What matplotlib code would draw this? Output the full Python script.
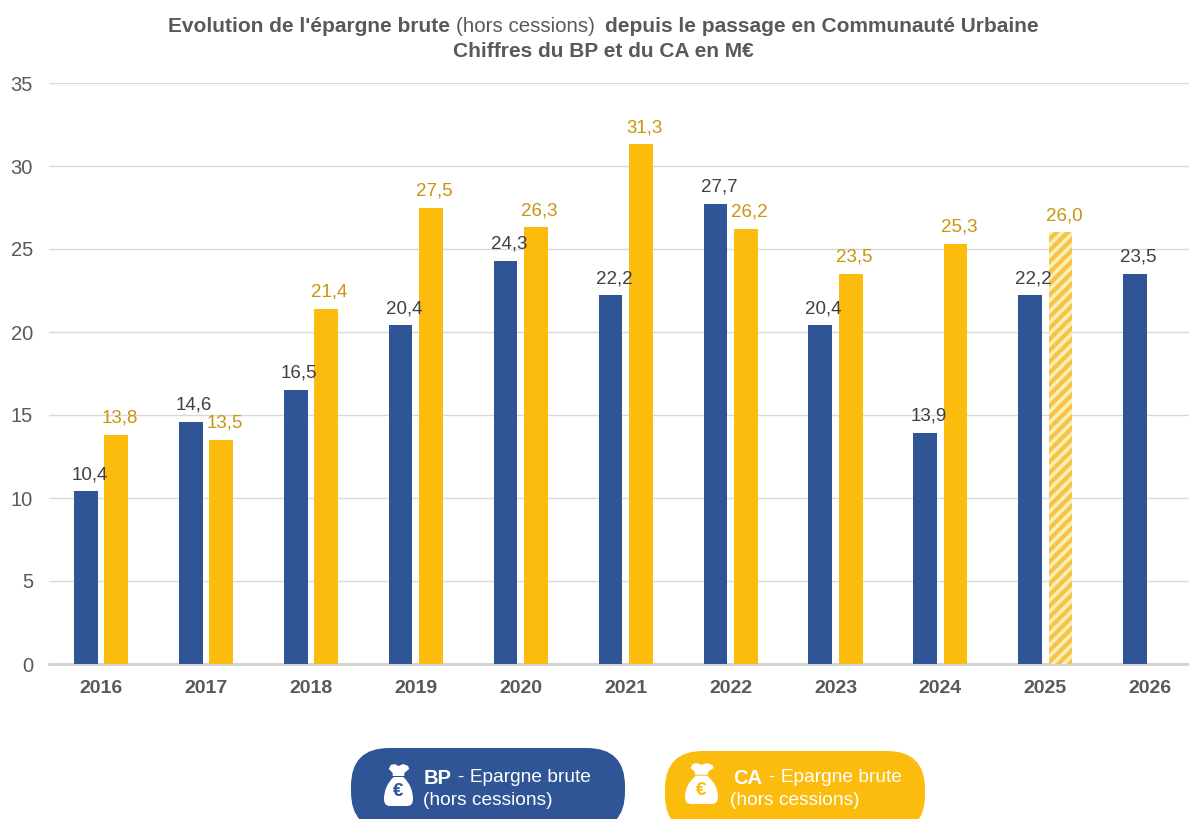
import matplotlib
matplotlib.use('Agg')
import matplotlib.pyplot as plt
from matplotlib.patches import FancyBboxPatch, PathPatch
from matplotlib.path import Path
import numpy as np

years = ['2016', '2017', '2018', '2019', '2020', '2021', '2022', '2023', '2024', '2025', '2026']
bp = [10.4, 14.6, 16.5, 20.4, 24.3, 22.2, 27.7, 20.4, 13.9, 22.2, 23.5]
ca = [13.8, 13.5, 21.4, 27.5, 26.3, 31.3, 26.2, 23.5, 25.3, 26.0, None]
hatched_year = '2025'

BLUE = '#2F5597'
YELLOW = '#FBBC0E'
GOLD = '#C8960C'
DARK = '#404040'
GREY = '#595959'

plt.rcParams['font.family'] = ['Liberation Sans', 'DejaVu Sans']

fig = plt.figure(figsize=(11.89, 8.19), dpi=100)
ax = fig.add_axes([49 / 1189, (819 - 664) / 819, 1 - 49 / 1189, (664 - 83) / 819])

x = np.arange(len(years))
w = 0.226
off = 0.145


def fr(v):
    return f'{v:.1f}'.replace('.', ',')


ax.bar(x - off, bp, w, color=BLUE, zorder=3)
for i, v in enumerate(ca):
    if v is None:
        continue
    if years[i] == hatched_year:
        plt.rcParams['hatch.linewidth'] = 3
        ax.bar(i + off, v, w, color='#F8EFB0', edgecolor='#F7C24A', hatch='///', linewidth=0, zorder=3)
    else:
        ax.bar(i + off, v, w, color=YELLOW, zorder=3)

for i, v in enumerate(bp):
    ax.annotate(fr(v), (i - off, v), xytext=(2.5, 6), textcoords='offset points', ha='center', va='bottom',
                fontsize=13.5, color=DARK, zorder=5)
for i, v in enumerate(ca):
    if v is not None:
        ax.annotate(fr(v), (i + off, v), xytext=(2.5, 6), textcoords='offset points', ha='center', va='bottom',
                    fontsize=13.5, color=GOLD, zorder=5)

ax.set_xlim(-0.497, 10.37)
ax.set_ylim(0, 35)
ax.set_yticks(range(0, 36, 5))
ax.set_xticks(x)
ax.set_xticklabels(years, fontsize=14, fontweight='bold', color=GREY)
ax.tick_params(axis='x', length=0, pad=11.5)
ax.tick_params(axis='y', length=0, pad=11.5, labelsize=14.5, labelcolor=GREY)
ax.grid(axis='y', color='#D9D9D9', linewidth=1, zorder=0)
ax.set_axisbelow(True)
for s in ['top', 'right', 'left']:
    ax.spines[s].set_visible(False)
ax.spines['bottom'].set_color('#D0D0D0')
ax.spines['bottom'].set_linewidth(2)

# overlay in pixel coordinates for title and the pill legend
ov = fig.add_axes([0, 0, 1, 1], facecolor='none')
ov.set_xlim(0, 1189)
ov.set_ylim(819, 0)
ov.axis('off')

ov.text(168, 26.5, "Evolution de l'épargne brute", fontsize=15.05, fontweight='bold', color=GREY, va='center')
ov.text(456, 26.5, '(hors cessions)', fontsize=14.8, color=GREY, va='center')
ov.text(605, 26.5, 'depuis le passage en Communauté Urbaine', fontsize=15.05, fontweight='bold', color=GREY, va='center')
ov.text(603, 51.5, 'Chiffres du BP et du CA en M€', fontsize=15, fontweight='bold', color=GREY, va='center', ha='center')


def bag(x0, x1, y0, y1, fg, bg):
    sx = (x1 - x0) / 30
    sy = (y1 - y0) / 42
    pts = [(7, 1), (11, 0), (15, 2), (20, 0), (25, 2), (26, 5), (21, 9), (21, 12), (9, 12), (9, 9), (5, 5), (7, 1)]
    verts = [(x0 + a * sx, y0 + b * sy) for a, b in pts]
    codes = [Path.MOVETO] + [Path.LINETO] * 10 + [Path.CLOSEPOLY]
    ov.add_patch(PathPatch(Path(verts, codes), fc=fg, ec='none'))
    body = [(10, 13), (20, 13), (30, 22), (30, 35), (30, 42), (24, 42), (6, 42), (0, 42), (0, 35), (0, 22), (10, 13), (10, 13)]
    verts = [(x0 + a * sx, y0 + b * sy) for a, b in body]
    codes = [Path.MOVETO, Path.LINETO, Path.CURVE3, Path.CURVE3, Path.CURVE3, Path.CURVE3, Path.LINETO,
             Path.CURVE3, Path.CURVE3, Path.CURVE3, Path.CURVE3, Path.CLOSEPOLY]
    ov.add_patch(PathPatch(Path(verts, codes), fc=fg, ec='none'))
    ov.text((x0 + x1) / 2, y0 + 28 * sy, '€', fontsize=13.5, fontweight='bold', color=bg, ha='center', va='center')


ov.add_patch(FancyBboxPatch((351, 748), 274, 82, boxstyle='round,pad=0,rounding_size=38', fc=BLUE, ec='none'))
ov.add_patch(FancyBboxPatch((665, 751), 260, 82, boxstyle='round,pad=0,rounding_size=38', fc=YELLOW, ec='none'))
bag(384, 413, 764, 806, 'white', BLUE)
bag(685, 718, 763, 804, 'white', YELLOW)

ov.text(424, 778, 'BP', fontsize=14.5, fontweight='bold', color='white', va='center')
ov.text(458, 778, '- Epargne brute', fontsize=13.8, color='white', va='center')
ov.text(423, 800.5, '(hors cessions)', fontsize=13.8, color='white', va='center')
ov.text(733, 778, 'CA', fontsize=14.5, fontweight='bold', color='white', va='center')
ov.text(769, 778, '- Epargne brute', fontsize=13.8, color='white', va='center')
ov.text(730, 800.5, '(hors cessions)', fontsize=13.8, color='white', va='center')

fig.savefig('out.png', dpi=100)
